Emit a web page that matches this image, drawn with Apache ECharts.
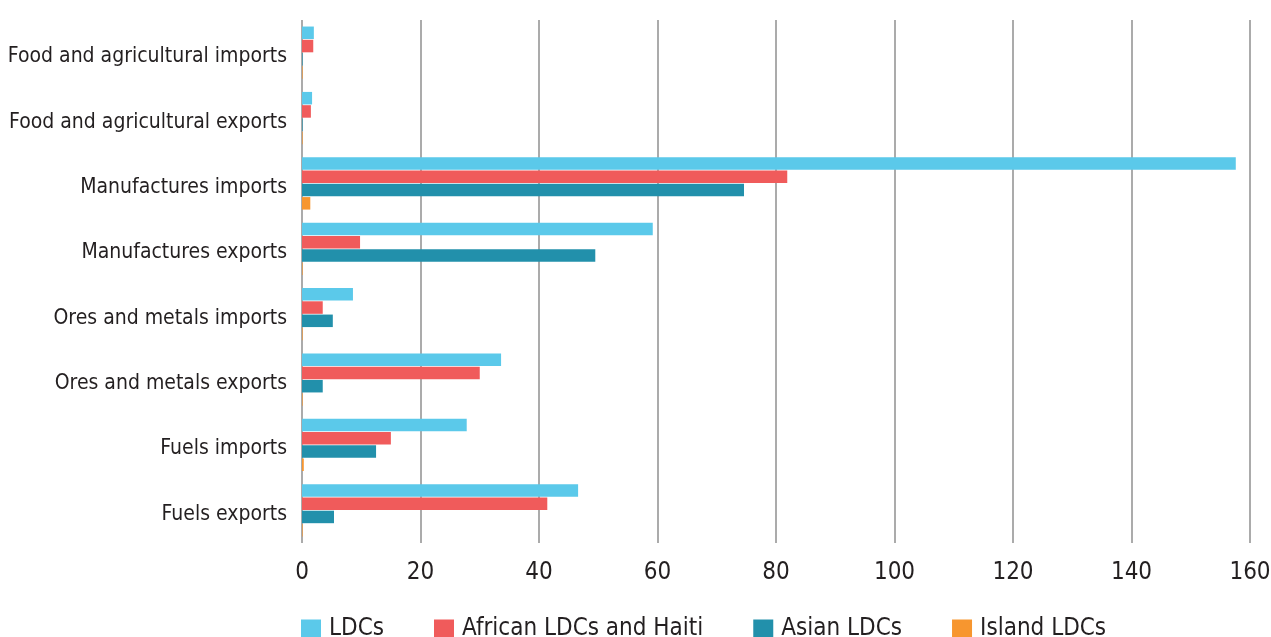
<!DOCTYPE html>
<html>
<head>
<meta charset="utf-8">
<script src="https://cdn.jsdelivr.net/npm/echarts@6/dist/echarts.min.js"></script>
<style>
  html, body { margin: 0; padding: 0; background: #ffffff; }
  #chart { width: 1271px; height: 637px; }
</style>
</head>
<body>
<div id="chart"></div>
<script>
// Trade by product group (top to bottom)
const categories = [
  'Food and agricultural imports',
  'Food and agricultural exports',
  'Manufactures imports',
  'Manufactures exports',
  'Ores and metals imports',
  'Ores and metals exports',
  'Fuels imports',
  'Fuels exports'
];

const seriesNames = ['LDCs', 'African LDCs and Haiti', 'Asian LDCs', 'Island LDCs'];

const ldcs        = [2.0, 1.7, 157.6, 59.2, 8.6, 33.6, 27.8, 46.6];
const africanLdcs = [1.9, 1.5, 81.9, 9.8, 3.5, 30.0, 15.0, 41.4];
const asianLdcs   = [0.1, 0.1, 74.6, 49.5, 5.2, 3.5, 12.5, 5.4];
const islandLdcs  = [0.1, 0.1, 1.4, 0.1, 0.1, 0.1, 0.3, 0.1];

const xTicks = [0, 20, 40, 60, 80, 100, 120, 140, 160];

const palette = ['#5bc9ea', '#f05b5b', '#2290ab', '#f7962f'];
const FONT = '"DejaVu Sans Condensed", "Liberation Sans Narrow", Roboto, sans-serif';

const chart = echarts.init(document.getElementById('chart'), null, { renderer: 'canvas' });

const seriesData = [ldcs, africanLdcs, asianLdcs, islandLdcs];

chart.setOption({
  animation: false,
  color: palette,
  textStyle: { fontFamily: FONT, color: '#231f20' },
  grid: { left: 302, right: 21, top: 20, bottom: 94, containLabel: false, outerBoundsMode: 'none' },
  legend: {
    data: seriesNames,
    left: 301,
    top: 617,
    padding: 0,
    icon: 'rect',
    itemWidth: 20,
    itemHeight: 19,
    itemGap: 50,
    textStyle: { fontFamily: FONT, fontSize: 24, color: '#231f20', padding: [0, 0, 0, 3] }
  },
  xAxis: {
    type: 'value',
    min: xTicks[0],
    max: xTicks[xTicks.length - 1],
    interval: xTicks[1] - xTicks[0],
    axisLine: { show: false },
    axisTick: { show: false },
    axisLabel: {
      fontFamily: FONT,
      fontSize: 24,
      color: '#231f20',
      margin: 18
    },
    splitLine: { show: true, lineStyle: { color: '#ababab', width: 2 } }
  },
  yAxis: {
    type: 'category',
    data: categories,
    inverse: true,
    axisLine: { show: false },
    axisTick: { show: false },
    axisLabel: {
      fontFamily: FONT,
      fontSize: 21,
      color: '#231f20',
      margin: 15,
      verticalAlign: 'top',
      lineHeight: 8
    },
    splitLine: { show: false }
  },
  series: seriesNames.map((name, i) => ({
    name: name,
    type: 'bar',
    data: seriesData[i],
    barCategoryGap: '20%',
    barGap: '6%',
    itemStyle: { color: palette[i] }
  }))
});
</script>
</body>
</html>
